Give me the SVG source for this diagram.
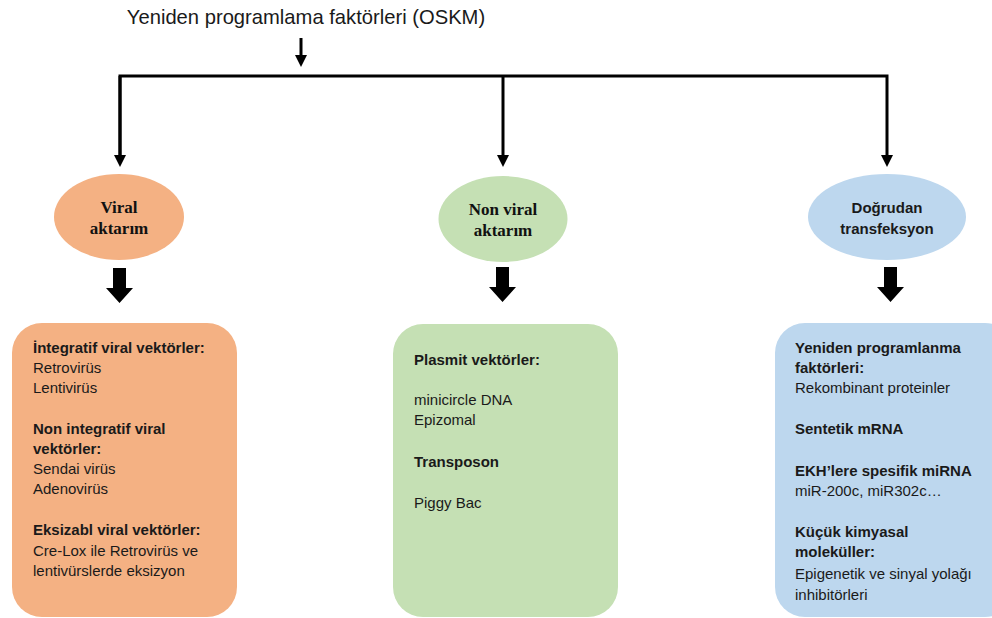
<svg xmlns="http://www.w3.org/2000/svg" width="992" height="618" viewBox="0 0 992 618">
<style>
.t{font-family:"Liberation Sans",Arial,sans-serif;fill:#1a1a1a}
.b{font-weight:bold}
.body{font-size:15px}
.ser{font-family:"Liberation Serif","Times New Roman",serif;font-weight:bold;font-size:17px;fill:#111}
.ln{fill:none;stroke:#000;stroke-width:3}
</style>
<defs>
<marker id="ah" markerWidth="4" markerHeight="4" refX="2" refY="2" orient="auto" markerUnits="strokeWidth">
<path d="M0,0 L4,2 L0,4 z" fill="#000"/>
</marker>
</defs>
<rect width="992" height="618" fill="#fff"/>
<g id="title">
<text class="t" x="306" y="24" font-size="20.2" text-anchor="middle">Yeniden programlama faktörleri (OSKM)</text>
</g>
<g id="connectors">
<line class="ln" x1="301" y1="38" x2="301" y2="61" marker-end="url(#ah)"/>
<polyline class="ln" points="120,161 120,76 887,76 887,161" marker-end="url(#ah)"/>
<path d="M120,76 L120,161" class="ln" marker-end="url(#ah)"/>
<line class="ln" x1="503" y1="76" x2="503" y2="161" marker-end="url(#ah)"/>
<polygon points="113,268 126,268 126,288 133,288 119.5,303 106,288 113,288" fill="#000"/>
<polygon points="496,267 509,267 509,287 516,287 502.5,302 489,287 496,287" fill="#000"/>
<polygon points="884,267 897,267 897,287 904,287 890.5,302 877,287 884,287" fill="#000"/>
</g>
<g id="viral">
<ellipse cx="119" cy="217" rx="65" ry="43" fill="#F4B183"/>
<text class="ser" x="119" y="213" text-anchor="middle">Viral</text>
<text class="ser" x="119" y="234" text-anchor="middle">aktarım</text>
</g>
<g id="nonviral">
<ellipse cx="503" cy="219" rx="64.5" ry="43" fill="#C5E0B4"/>
<text class="ser" x="503" y="215" text-anchor="middle">Non viral</text>
<text class="ser" x="503" y="236" text-anchor="middle">aktarım</text>
</g>
<g id="dogrudan">
<ellipse cx="887" cy="217" rx="79" ry="43" fill="#BDD7EE"/>
<text class="t b" x="887" y="213" font-size="15" text-anchor="middle">Doğrudan</text>
<text class="t b" x="887" y="234" font-size="15" text-anchor="middle">transfeksyon</text>
</g>
<g id="viral-box">
<rect x="12" y="323" width="225" height="294" rx="30" fill="#F4B183"/>
<text class="t body" x="33">
<tspan class="b" x="33" y="353">İntegratif viral vektörler:</tspan>
<tspan x="33" y="373">Retrovirüs</tspan>
<tspan x="33" y="393">Lentivirüs</tspan>
<tspan class="b" x="33" y="434">Non integratif viral</tspan>
<tspan class="b" x="33" y="454">vektörler:</tspan>
<tspan x="33" y="474">Sendai virüs</tspan>
<tspan x="33" y="494">Adenovirüs</tspan>
<tspan class="b" x="33" y="535">Eksizabl viral vektörler:</tspan>
<tspan x="33" y="556">Cre-Lox ile Retrovirüs ve</tspan>
<tspan x="33" y="576">lentivürslerde eksizyon</tspan>
</text>
</g>
<g id="nonviral-box">
<rect x="393" y="324" width="225" height="293" rx="30" fill="#C5E0B4"/>
<text class="t body">
<tspan class="b" x="414" y="365">Plasmit vektörler:</tspan>
<tspan x="414" y="405">minicircle DNA</tspan>
<tspan x="414" y="425">Epizomal</tspan>
<tspan class="b" x="414" y="467">Transposon</tspan>
<tspan x="414" y="508">Piggy Bac</tspan>
</text>
</g>
<g id="dogrudan-box">
<rect x="775" y="323" width="240" height="294" rx="30" fill="#BDD7EE"/>
<text class="t body">
<tspan class="b" x="795" y="353">Yeniden programlanma</tspan>
<tspan class="b" x="795" y="373">faktörleri:</tspan>
<tspan x="795" y="393">Rekombinant proteinler</tspan>
<tspan class="b" x="795" y="434">Sentetik mRNA</tspan>
<tspan class="b" x="795" y="476">EKH’lere spesifik miRNA</tspan>
<tspan x="795" y="496">miR-200c, miR302c…</tspan>
<tspan class="b" x="795" y="537">Küçük kimyasal</tspan>
<tspan class="b" x="795" y="557">moleküller:</tspan>
<tspan x="795" y="579">Epigenetik ve sinyal yolağı</tspan>
<tspan x="795" y="600">inhibitörleri</tspan>
</text>
</g>
</svg>
